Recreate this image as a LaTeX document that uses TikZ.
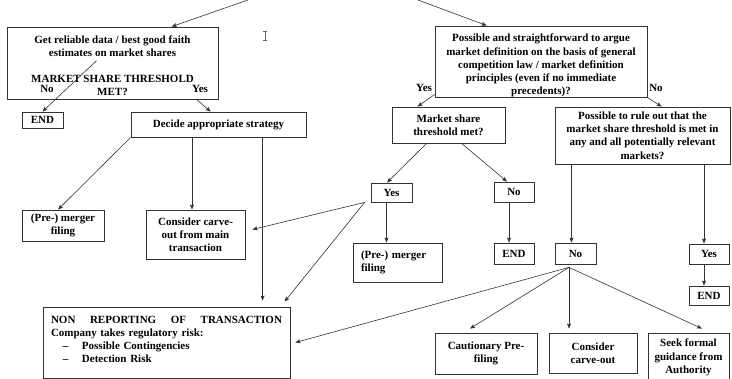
\documentclass[tikz,border=0pt]{standalone}
\usepackage{fontspec}
\setmainfont{Liberation Serif}
\usepackage{tikz}
\usetikzlibrary{arrows.meta}

\begin{document}
\begin{tikzpicture}[
    x=1pt,
    y=-1pt,
    >={Stealth[length=5pt,width=4pt,inset=1pt]},
    box/.style={
        draw=black!80,
        line width=0.8pt,
        inner sep=0pt,
        align=center,
        font=\bfseries\fontsize{11}{13.2}\selectfont
    },
    lbl/.style={
        inner sep=0.5pt,
        font=\bfseries\fontsize{11}{13.2}\selectfont
    },
    link/.style={
        ->,
        draw=black!80,
        line width=0.6pt
    }
]

\useasboundingbox (0,0) rectangle (732,379);


\node[box, minimum width=211pt, minimum height=72pt] (facts) at (112.5,63)
    {\rule{0pt}{13pt}Get reliable data / best good faith\\estimates on market shares\\[12pt]MARKET SHARE THRESHOLD\\MET?};
\node[lbl] (factsNo) at (47,89) {No};
\node[lbl] (factsYes) at (200,89) {Yes};

\node[box, minimum width=41pt, minimum height=16pt] (endA) at (42.5,120) {END};
\node[box, minimum width=175pt, minimum height=25pt] (strat) at (218.5,124.5) {Decide appropriate strategy};
\node[box, minimum width=82pt, minimum height=31pt] (fileA) at (63,225.5) {(Pre-) merger\\filing};
\node[box, minimum width=99pt, minimum height=49pt] (carveA) at (195.5,234.5) {Consider carve-\\out from main\\transaction};

\node[box, minimum width=247pt, minimum height=71pt, text width=231pt, align=left] (nonrep) at (166.5,342.5)
    {\rule{0pt}{14pt}\makebox[231pt]{NON\hfill REPORTING\hfill OF\hfill TRANSACTION}\\
     Company takes regulatory risk:\\
     \hspace*{12pt}\makebox[19pt][l]{--}Possible Contingencies\\
     \hspace*{12pt}\makebox[19pt][l]{--}Detection Risk\\
     \mbox{}};


\node[box, minimum width=212pt, minimum height=71pt] (argue) at (541,61.5)
    {\rule{0pt}{16pt}Possible and straightforward to argue\\market definition on the basis of general\\competition law / market definition\\principles (even if no immediate\\precedents)?};
\node[lbl] (argueYes) at (424,88) {Yes};
\node[lbl] (argueNo) at (656,88) {No};

\node[box, minimum width=113pt, minimum height=36pt] (share) at (448.5,125) {Market share\\threshold met?};
\node[box, minimum width=175pt, minimum height=57pt] (ruleout) at (642.5,135.5)
    {Possible to rule out that the\\market share threshold is met in\\any and all potentially relevant\\markets?};

\node[box, minimum width=41pt, minimum height=19pt] (yesA) at (391.5,192.5) {Yes};
\node[box, minimum width=40pt, minimum height=20pt] (noA) at (514,192) {No};
\node[box, minimum width=89pt, minimum height=39pt, text width=73pt, align=left] (fileB) at (397.5,262.5) {(Pre-) merger\\filing};
\node[box, minimum width=40pt, minimum height=21pt] (endB) at (514,253.5) {END};
\node[box, minimum width=41pt, minimum height=21pt] (noB) at (575.5,253.5) {No};
\node[box, minimum width=40pt, minimum height=20pt] (yesB) at (709,254) {Yes};
\node[box, minimum width=40pt, minimum height=19pt] (endC) at (709,295.5) {END};

\node[box, minimum width=102pt, minimum height=41pt] (prefile) at (486,353.5) {Cautionary Pre-\\filing};
\node[box, minimum width=88pt, minimum height=40pt] (carveB) at (593,353) {Consider\\carve-out};
\node[box, minimum width=81pt, minimum height=49pt] (guide) at (688.5,357.5) {Seek formal\\guidance from\\Authority};


\coordinate (inL) at (248,0);
\coordinate (inR) at (418,0);

\draw[link] (inL) -- ([xshift=165pt]facts.north west);
\draw[link] (inR) -- ([xshift=52pt]argue.north west);

\draw[link] ([xshift=90pt,yshift=-34pt]facts.north west) -- (endA.north);
\draw[link] ([xshift=190pt]facts.south west) -- ([xshift=80pt]strat.north west);
\draw[link] (strat.south west) -- ([xshift=-5pt]fileA.north);
\draw[link] ([xshift=-3.5pt]carveA.north |- strat.south) -- ([xshift=-3.5pt]carveA.north);
\draw[link, shorten >=6pt] ([xshift=220pt]nonrep.north west |- strat.south) -- ([xshift=220pt]nonrep.north west);

\coordinate (yesApex) at ([xshift=-6pt]yesA.south west);
\draw[link] (yesApex) -- ([xshift=7pt,yshift=5pt]carveA.east);
\draw[link] (yesApex) -- ([xshift=242pt,yshift=5pt]nonrep.north west);

\draw[link] ([yshift=3pt]argue.south west) -- ([xshift=26pt]share.north west);
\draw[link] (argue.south east) -- ([xshift=107pt]ruleout.north west);
\draw[link] ([xshift=35pt]share.south west) -- ([xshift=-4.5pt]yesA.north);
\draw[link] ([xshift=70pt]share.south west) -- ([xshift=-7pt]noA.north);
\draw[link] ([xshift=-5pt]yesA.south) -- ([xshift=-5pt]yesA.south |- fileB.north);
\draw[link] ([xshift=-5pt]noA.south) -- ([xshift=-5pt]endB.north);
\draw[link] ([xshift=-4pt]noB.north |- ruleout.south) -- ([xshift=-4pt]noB.north);
\draw[link] ([xshift=-5pt]yesB.north |- ruleout.south) -- ([xshift=-5pt]yesB.north);
\draw[link] ([xshift=-5pt]yesB.south) -- ([xshift=-5pt]endC.north);

\coordinate (noApex) at ([xshift=-6.5pt,yshift=-3pt]noB.south);
\draw[link] (noApex) -- ([xshift=-16pt,yshift=4pt]prefile.north);
\draw[link] (noApex) -- ([xshift=-24pt,yshift=4pt]carveB.north);
\draw[link] (noApex) -- ([xshift=13.5pt,yshift=4pt]guide.north);
\draw[link] (noApex) -- ([xshift=5pt]nonrep.east);


\draw[black!60, line width=0.6pt] (263,31) -- (267,31) (265,31) -- (265,40) (263,40) -- (267,40);

\end{tikzpicture}
\end{document}
